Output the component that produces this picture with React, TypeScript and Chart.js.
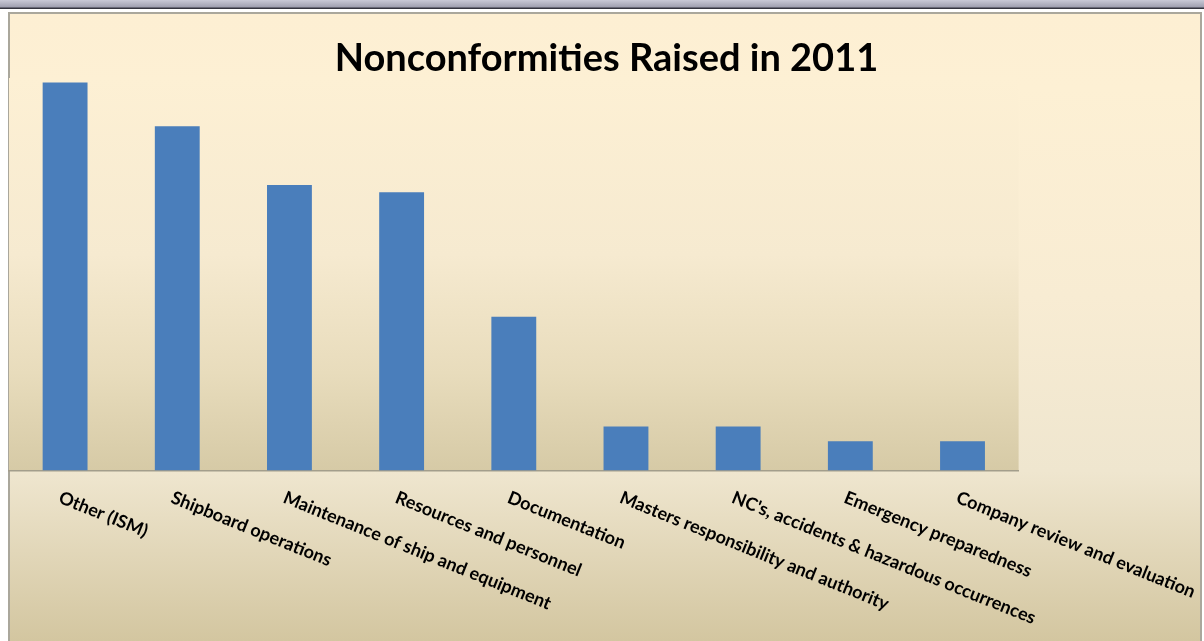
import React, { useEffect, useRef } from "react";
import { Chart, registerables } from "chart.js";

Chart.register(...registerables);

const TITLE = "Nonconformities Raised in 2011";
const CATEGORIES = [
  "Other (ISM)",
  "Shipboard operations",
  "Maintenance of ship and equipment",
  "Resources and personnel",
  "Documentation",
  "Masters responsibility and authority",
  "NC's, accidents & hazardous occurrences",
  "Emergency preparedness",
  "Company review and evaluation",
];
const VALUES = [53, 47, 39, 38, 21, 6, 6, 4, 4];
const Y_MAX = 53.6;

const FONT = "Lato, 'Noto Sans', sans-serif";

const backgroundPlugin = {
  id: "frameBackground",
  beforeDraw(chart: any) {
    const { ctx, width, height, chartArea } = chart;
    ctx.save();
    ctx.fillStyle = "#ffffff";
    ctx.fillRect(0, 0, width, height);
    // top band
    const band = ctx.createLinearGradient(0, 0, 0, 8);
    band.addColorStop(0, "#c9c9d6");
    band.addColorStop(1, "#9a9aab");
    ctx.fillStyle = band;
    ctx.fillRect(0, 0, width, 8);
    ctx.fillStyle = "#34343f";
    ctx.fillRect(0, 7.5, width, 1.5);
    // outer box
    const boxL = 9, boxT = 13, boxR = 1201;
    const outer = ctx.createLinearGradient(0, boxT, 0, height);
    outer.addColorStop(0, "#fdefd3");
    outer.addColorStop(0.12, "#fdf0d4");
    outer.addColorStop(0.45, "#f8ecd3");
    outer.addColorStop(0.73, "#efe6cf");
    outer.addColorStop(1, "#d3c6a0");
    ctx.fillStyle = outer;
    ctx.fillRect(boxL, boxT, boxR - boxL, height - boxT);
    ctx.strokeStyle = "#aaa79c";
    ctx.lineWidth = 2;
    ctx.beginPath();
    ctx.moveTo(boxL, height);
    ctx.lineTo(boxL, boxT);
    ctx.lineTo(boxR, boxT);
    ctx.lineTo(boxR, height);
    ctx.stroke();
    // plot area
    const { left, right, top, bottom } = chartArea;
    const inner = ctx.createLinearGradient(0, top, 0, bottom);
    inner.addColorStop(0, "#fdf0d4");
    inner.addColorStop(0.45, "#f6ead0");
    inner.addColorStop(0.75, "#e8dcbc");
    inner.addColorStop(1, "#d6caa6");
    ctx.fillStyle = inner;
    ctx.fillRect(left, top, right - left, bottom - top);
    ctx.restore();
  },
};

const rotatedLabelsPlugin = {
  id: "rotatedLabels",
  afterDraw(chart: any) {
    const { ctx } = chart;
    const xScale = chart.scales.x;
    const labels: string[] = chart.data.labels;
    ctx.save();
    ctx.fillStyle = "#000000";
    ctx.font = `bold 18px ${FONT}`;
    ctx.textAlign = "left";
    ctx.textBaseline = "top";
    labels.forEach((label, i) => {
      const x = xScale.getPixelForTick(i);
      ctx.save();
      ctx.translate(x - 2, xScale.top + 18);
      ctx.rotate((22 * Math.PI) / 180);
      ctx.fillText(label, 0, 0);
      ctx.restore();
    });
    ctx.restore();
  },
};

export default function App() {
  const canvasRef = useRef<HTMLCanvasElement | null>(null);

  useEffect(() => {
    const canvas = canvasRef.current;
    if (!canvas) return;
    const chart = new Chart(canvas, {
      type: "bar",
      data: {
        labels: CATEGORIES,
        datasets: [
          {
            data: VALUES,
            backgroundColor: "#4a7ebb",
            borderWidth: 0,
            barPercentage: 0.4,
            categoryPercentage: 1,
          },
        ],
      },
      options: {
        responsive: false,
        animation: false,
        devicePixelRatio: 1,
        layout: { padding: { left: 9, right: 0, top: 0, bottom: 0 } },
        plugins: {
          legend: { display: false },
          tooltip: { enabled: false },
          title: {
            display: true,
            text: TITLE,
            color: "#000000",
            font: { family: FONT, size: 38, weight: "bold", lineHeight: 1 },
            padding: { top: 40, bottom: 0 },
          },
        },
        scales: {
          x: {
            type: "category",
            grid: { display: false, drawTicks: false },
            ticks: { display: false },
            border: { display: true, color: "#a39e8c", width: 1.5 },
            afterFit(scale: any) {
              scale.height = 170.5;
            },
          },
          y: {
            type: "linear",
            position: "right",
            min: 0,
            max: Y_MAX,
            grid: { display: false, drawTicks: false },
            ticks: { display: false },
            border: { display: false },
            afterFit(scale: any) {
              scale.width = 185.4;
            },
          },
        },
      },
      plugins: [backgroundPlugin, rotatedLabelsPlugin],
    });
    return () => chart.destroy();
  }, []);

  return (
    <div style={{ position: "absolute", left: 0, top: 0, width: 1204, height: 641 }}>
      <canvas ref={canvasRef} width={1204} height={641} style={{ width: 1204, height: 641, display: "block" }} />
    </div>
  );
}
